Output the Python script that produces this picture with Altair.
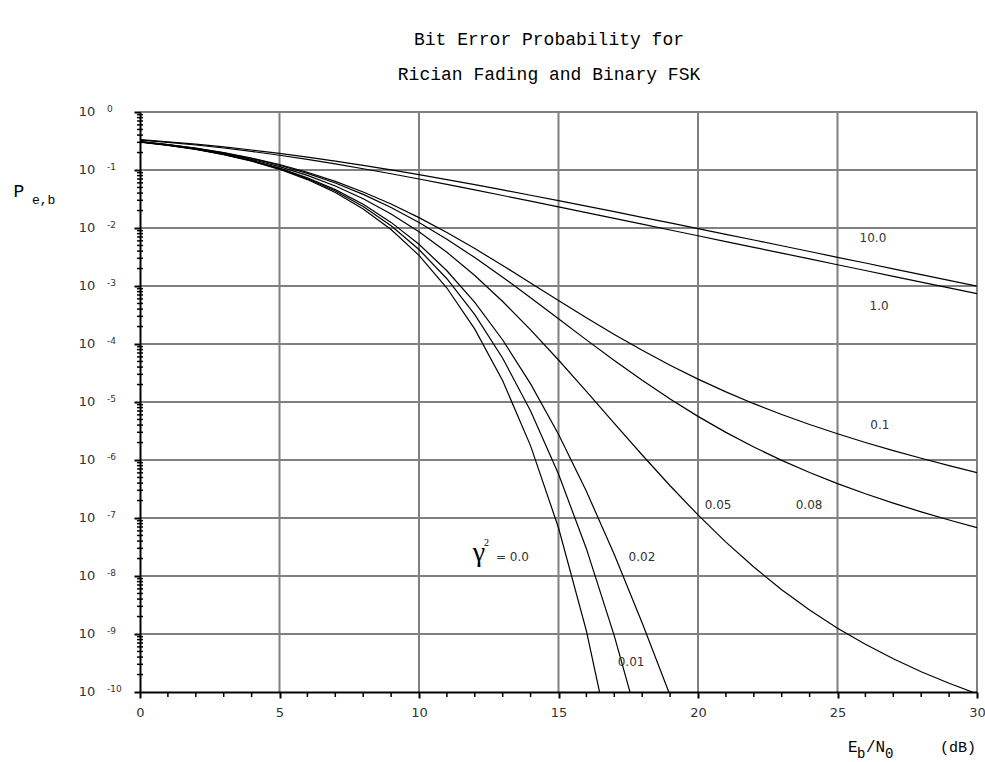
import altair as alt
import pandas as pd

# ---------------- data (log10 of bit error probability, read at 1 dB steps) -------------
DB = list(range(0, 31))
SERIES = ["0.0", "0.01", "0.02", "0.05", "0.08", "0.1", "1.0", "10.0"]
LOGP_000 = [-0.518, -0.574, -0.645, -0.734, -0.846, -0.988, -1.165, -1.389, -1.671, -2.026,
            -2.473, -3.035, -3.743, -4.634, -5.756, -7.168, -8.946, -11.184]
LOGP_001 = [-0.517, -0.573, -0.642, -0.730, -0.840, -0.977, -1.149, -1.363, -1.630, -1.961,
            -2.371, -2.875, -3.493, -4.246, -5.155, -6.243, -7.529, -9.031, -10.756]
LOGP_002 = [-0.516, -0.571, -0.640, -0.726, -0.834, -0.967, -1.133, -1.339, -1.592, -1.903,
            -2.280, -2.737, -3.284, -3.931, -4.688, -5.557, -6.540, -7.629, -8.809, -10.058]
LOGP_005 = [-0.513, -0.567, -0.633, -0.715, -0.817, -0.941, -1.092, -1.276, -1.496, -1.758,
            -2.064, -2.418, -2.820, -3.267, -3.755, -4.276, -4.817, -5.368, -5.914, -6.444,
            -6.947, -7.416, -7.846, -8.236, -8.587, -8.900, -9.178, -9.427, -9.650, -9.850,
            -10.031]
LOGP_008 = [-0.511, -0.563, -0.627, -0.706, -0.802, -0.918, -1.058, -1.225, -1.421, -1.647,
            -1.905, -2.194, -2.510, -2.848, -3.203, -3.566, -3.929, -4.285, -4.626, -4.948,
            -5.248, -5.524, -5.777, -6.007, -6.216, -6.407, -6.582, -6.744, -6.894, -7.034,
            -7.167]
LOGP_010 = [-0.509, -0.560, -0.623, -0.700, -0.793, -0.905, -1.039, -1.196, -1.379, -1.587,
            -1.821, -2.078, -2.355, -2.647, -2.947, -3.249, -3.547, -3.835, -4.109, -4.366,
            -4.605, -4.825, -5.029, -5.216, -5.388, -5.548, -5.698, -5.838, -5.970, -6.096,
            -6.218]
LOGP_100 = [-0.485, -0.524, -0.569, -0.621, -0.680, -0.746, -0.818, -0.895, -0.978, -1.065,
            -1.155, -1.248, -1.343, -1.440, -1.538, -1.636, -1.735, -1.835, -1.934, -2.034,
            -2.134, -2.234, -2.333, -2.433, -2.533, -2.633, -2.733, -2.833, -2.933, -3.033,
            -3.133]
LOGP_1000 = [-0.477, -0.513, -0.555, -0.602, -0.655, -0.714, -0.778, -0.847, -0.921, -0.999,
             -1.081, -1.166, -1.253, -1.343, -1.435, -1.528, -1.623, -1.719, -1.816, -1.913,
             -2.011, -2.109, -2.207, -2.306, -2.405, -2.505, -2.604, -2.704, -2.803, -2.903,
             -3.003]
ALL = [LOGP_000, LOGP_001, LOGP_002, LOGP_005, LOGP_008, LOGP_010, LOGP_100, LOGP_1000]

# axis ticks
X_MAJOR = [0, 5, 10, 15, 20, 25, 30]
X_MINOR = [v for v in range(0, 31) if v % 5 != 0]
EXPONENTS = [0, -1, -2, -3, -4, -5, -6, -7, -8, -9, -10]
MINOR_MULT = [2, 3, 4, 5, 6, 7, 8, 9]

TITLE_1 = "Bit Error Probability for"
TITLE_2 = "Rician Fading and Binary FSK"

# curve labels (label text, dB, log10 P)
LABELS = ["10.0", "1.0", "0.1", "0.05", "0.08", "0.02", "0.01"]
LABEL_X = [26.27, 26.49, 26.52, 20.72, 23.98, 17.99, 17.60]
LABEL_LOGY = [-2.18, -3.34, -5.39, -6.77, -6.77, -7.68, -9.49]

# ---------------- frames ----------------
rows = []
for name, vals in zip(SERIES, ALL):
    for d, lv in zip(DB, vals):
        rows.append({"db": d, "p": 10.0 ** lv, "series": name})
df = pd.DataFrame(rows)

W, H = 837, 580
xs = alt.Scale(domain=[0, 30], nice=False, zero=False)
ys = alt.Scale(type="log", domain=[1e-10, 1], nice=False)
GRID = "#808080"
LBL = "#333333"

y_major_vals = [10.0 ** e for e in EXPONENTS]

X_AXIS = alt.Axis(values=X_MAJOR, grid=False, domainColor="black", domainWidth=2,
                  tickColor="black", tickWidth=2, tickSize=6, labelFont="DejaVu Sans",
                  labelFontSize=13, labelColor=LBL, labelPadding=8, labelFlush=False,
                  zindex=1, title=None)
Y_AXIS = alt.Axis(values=y_major_vals, grid=False, labels=False, domainColor="black",
                  domainWidth=2, tickColor="black", tickWidth=2, tickSize=6, zindex=1,
                  title=None)


def X(field):
    return alt.X(field, scale=xs, axis=X_AXIS, title=None)


def Y(field):
    return alt.Y(field, scale=ys, axis=Y_AXIS, title=None)


grid_y = pd.DataFrame({"p": [10.0 ** e for e in EXPONENTS if e != -10]})
grid_x = pd.DataFrame({"db": [v for v in X_MAJOR if v != 0]})
minor_y = pd.DataFrame({"p": [m * 10.0 ** e for e in EXPONENTS if e != 0 for m in MINOR_MULT]})
minor_x = pd.DataFrame({"db": X_MINOR})
ylab = pd.DataFrame({"p": y_major_vals, "base": ["10"] * len(EXPONENTS),
                     "exp": [str(e) for e in EXPONENTS]})
ann = pd.DataFrame({"t": LABELS, "db": LABEL_X, "p": [10.0 ** v for v in LABEL_LOGY]})

gx = alt.Chart(grid_x).mark_rule(color=GRID, strokeWidth=2).encode(x=X("db:Q"))
gy = alt.Chart(grid_y).mark_rule(color=GRID, strokeWidth=2).encode(y=Y("p:Q"))

lines = alt.Chart(df).mark_line(color="black", strokeWidth=1.2, clip=True).encode(
    x=X("db:Q"), y=Y("p:Q"), detail="series:N")

mty = alt.Chart(minor_y).mark_rule(color="black", strokeWidth=1.5).encode(
    y=Y("p:Q"), x=alt.value(-3), x2=alt.value(3))
mtx = alt.Chart(minor_x).mark_rule(color="black", strokeWidth=1.5).encode(
    x=X("db:Q"), y=alt.value(H), y2=alt.value(H + 5))

ybase = alt.Chart(ylab).mark_text(font="DejaVu Sans", fontSize=13, color=LBL, align="center",
                                  baseline="middle").encode(
    y=Y("p:Q"), x=alt.value(-53), text="base:N")
yexp = alt.Chart(ylab).mark_text(font="DejaVu Sans", fontSize=9, color=LBL, align="left",
                                 baseline="middle", dy=-3).encode(
    y=Y("p:Q"), x=alt.value(-33), text="exp:N")

anns = alt.Chart(ann).mark_text(font="DejaVu Sans", fontSize=12, color=LBL, align="center",
                                baseline="middle").encode(
    x=X("db:Q"), y=Y("p:Q"), text="t:N")

gamma_df = pd.DataFrame({"t": ["\u03b3"], "db": [12.15], "p": [10.0 ** -7.6]})
gamma = alt.Chart(gamma_df).mark_text(font="Liberation Serif", fontSize=28, color="black",
                                      align="center", baseline="middle").encode(
    x=X("db:Q"), y=Y("p:Q"), text="t:N")
sq_df = pd.DataFrame({"t": ["2"], "db": [12.42], "p": [10.0 ** -7.43]})
sq = alt.Chart(sq_df).mark_text(font="Liberation Serif", fontSize=10, color="black",
                                align="center", baseline="middle").encode(
    x=X("db:Q"), y=Y("p:Q"), text="t:N")
eq_df = pd.DataFrame({"t": ["= 0.0"], "db": [12.76], "p": [10.0 ** -7.68]})
eq = alt.Chart(eq_df).mark_text(font="DejaVu Sans", fontSize=12, color=LBL,
                                align="left", baseline="middle").encode(
    x=X("db:Q"), y=Y("p:Q"), text="t:N")


def pix_text(txt, x, y, size, font="Liberation Mono", align="center", baseline="middle",
             color="black"):
    return alt.Chart(pd.DataFrame({"t": [txt]})).mark_text(
        font=font, fontSize=size, align=align, baseline=baseline, color=color).encode(
        text="t:N", x=alt.value(x), y=alt.value(y))


t1 = pix_text(TITLE_1, 409, -72, 18)
t2 = pix_text(TITLE_2, 409, -37, 18)
p_main = pix_text("P", -121, 85, 18, align="center", baseline="alphabetic")
p_sub = pix_text("e,b", -108, 92, 13, align="left", baseline="alphabetic")
e_main = pix_text("E", 708, 640, 16, align="left", baseline="alphabetic")
e_sub = pix_text("b", 717, 646, 14, align="left", baseline="alphabetic")
n_main = pix_text("/N", 726, 640, 16, align="left", baseline="alphabetic")
n_sub = pix_text("0", 745, 646, 14, align="left", baseline="alphabetic")
db_t = pix_text("(dB)", 800, 640, 15, align="left", baseline="alphabetic")

chart = alt.layer(
    gx, gy, lines, mty, mtx, ybase, yexp, anns, gamma, sq, eq,
    t1, t2, p_main, p_sub, e_main, e_sub, n_main, n_sub, db_t
).properties(
    width=W, height=H,
    autosize=alt.AutoSizeParams(type="none"),
    padding={"left": 140, "top": 112, "right": 8, "bottom": 70},
    background="white",
).configure_view(stroke=None)

chart.save("out.html", embed_options={"renderer": "svg", "actions": False})
